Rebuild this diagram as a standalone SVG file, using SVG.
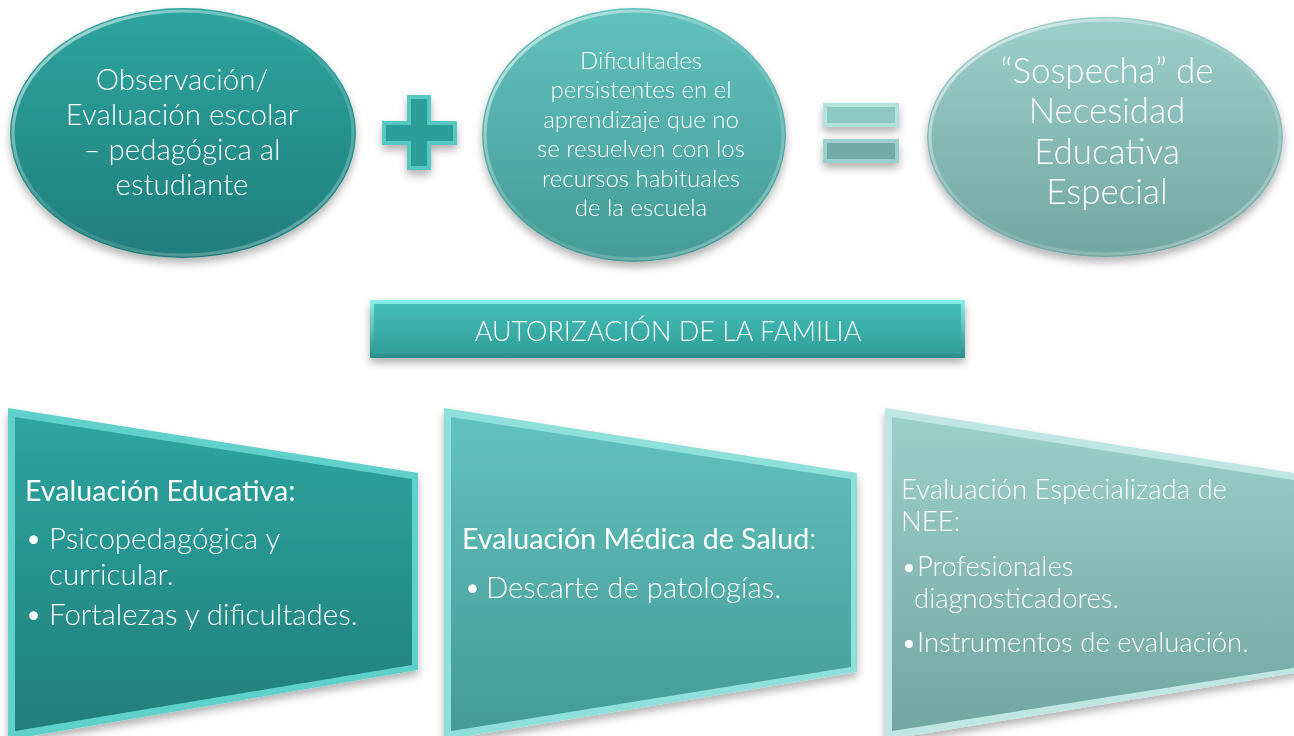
<svg xmlns="http://www.w3.org/2000/svg" width="1294" height="736" viewBox="0 0 1294 736">
<style>
.lt{font-family:Lato,"Open Sans","Liberation Sans",sans-serif;font-weight:300;fill:#ffffff}
.rg{font-family:Lato,"Open Sans","Liberation Sans",sans-serif;font-weight:400;fill:#ffffff}
.c{text-anchor:middle}
</style>
<defs>
<filter id="sh" x="-10%" y="-10%" width="120%" height="130%">
<feDropShadow dx="0" dy="5" stdDeviation="4" flood-color="#000" flood-opacity="0.3"/>
</filter>
<linearGradient id="g1" x1="0" y1="0" x2="0" y2="1"><stop offset="0" stop-color="#2ea5a0"/><stop offset="1" stop-color="#207e7a"/></linearGradient>
<linearGradient id="g2" x1="0" y1="0" x2="0" y2="1"><stop offset="0" stop-color="#62c2bd"/><stop offset="1" stop-color="#459a95"/></linearGradient>
<linearGradient id="g3" x1="0" y1="0" x2="0" y2="1"><stop offset="0" stop-color="#9dcfcb"/><stop offset="1" stop-color="#72a6a2"/></linearGradient>
<linearGradient id="gb" x1="0" y1="0" x2="0" y2="1"><stop offset="0" stop-color="#45bdb7"/><stop offset="1" stop-color="#2f9f99"/></linearGradient>
<linearGradient id="gbe" x1="0" y1="0" x2="0" y2="1"><stop offset="0" stop-color="#8af0ea"/><stop offset="1" stop-color="#2a8d88"/></linearGradient>
<linearGradient id="rim" x1="0" y1="0" x2="1" y2="1"><stop offset="0" stop-color="#ffffff" stop-opacity="0.7"/><stop offset="0.5" stop-color="#ffffff" stop-opacity="0.08"/><stop offset="1" stop-color="#ffffff" stop-opacity="0.35"/></linearGradient>
</defs>

<g id="connectors"></g>

<g id="n-observacion" filter="url(#sh)">
<ellipse cx="183" cy="133" rx="173" ry="125" fill="url(#g1)"/>
<ellipse cx="183" cy="133" rx="170" ry="122" fill="none" stroke="url(#rim)" stroke-width="3"/>
<text class="lt c" font-size="29.5"><tspan x="182" y="90">Observación/</tspan><tspan x="182" y="125">Evaluación escolar</tspan><tspan x="182" y="160">– pedagógica al</tspan><tspan x="182" y="195">estudiante</tspan></text>
</g>

<g id="n-plus" filter="url(#sh)">
<polygon points="407,95 431,95 431,121 457,121 457,145 431,145 431,170 407,170 407,145 382,145 382,121 407,121" fill="#56c8c2"/>
<polygon points="411,99 427,99 427,125 453,125 453,141 427,141 427,166 411,166 411,141 386,141 386,125 411,125" fill="#2a9e99"/>
</g>

<g id="n-dificultades" filter="url(#sh)">
<ellipse cx="634" cy="135" rx="152" ry="127" fill="url(#g2)"/>
<ellipse cx="634" cy="135" rx="149" ry="124" fill="none" stroke="url(#rim)" stroke-width="3"/>
<text class="lt c" font-size="24"><tspan x="641" y="69">Dificultades</tspan><tspan x="641" y="98">persistentes en el</tspan><tspan x="641" y="128">aprendizaje que no</tspan><tspan x="641" y="157">se resuelven con los</tspan><tspan x="641" y="187">recursos habituales</tspan><tspan x="641" y="216">de la escuela</tspan></text>
</g>

<g id="n-equals" filter="url(#sh)">
<rect x="823" y="103" width="76" height="24" fill="#b4e2df"/>
<rect x="827" y="107" width="68" height="16" fill="#8ec8c4"/>
<rect x="823" y="139" width="76" height="24" fill="#9bd0cc"/>
<rect x="827" y="143" width="68" height="16" fill="#71aaa6"/>
</g>

<g id="n-sospecha" filter="url(#sh)">
<ellipse cx="1105" cy="137" rx="178" ry="120" fill="url(#g3)"/>
<ellipse cx="1105" cy="137" rx="175" ry="117" fill="none" stroke="url(#rim)" stroke-width="3"/>
<text class="lt c" font-size="35"><tspan x="1107" y="83">“Sospecha” de</tspan><tspan x="1107" y="123">Necesidad</tspan><tspan x="1107" y="164">Educativa</tspan><tspan x="1107" y="204">Especial</tspan></text>
</g>

<g id="n-autorizacion" filter="url(#sh)">
<rect x="370" y="300" width="595" height="58" fill="url(#gbe)"/>
<rect x="374" y="304" width="587" height="50" fill="url(#gb)"/>
<text class="lt c" x="668" y="341" font-size="27">AUTORIZACIÓN DE LA FAMILIA</text>
</g>

<g id="n-educativa" filter="url(#sh)">
<polygon points="8,408 418,473 418,670 8,740" fill="#5fd0ca"/>
<polygon points="15,417 412,479 412,665 15,731" fill="url(#g1)"/>
<text class="rg" x="25" y="501" font-size="28.6">Evaluación Educativa:</text>
<text class="lt" font-size="29.5"><tspan x="25" y="549">•</tspan><tspan x="49" y="549">Psicopedagógica y</tspan><tspan x="49" y="585">curricular.</tspan><tspan x="25" y="625">•</tspan><tspan x="49" y="625">Fortalezas y dificultades.</tspan></text>
</g>

<g id="n-medica" filter="url(#sh)">
<polygon points="444,408 857,473 857,672 444,740" fill="#8fe0db"/>
<polygon points="451,417 851,479 851,667 451,731" fill="url(#g2)"/>
<text x="462" y="549" font-size="28.6"><tspan class="rg">Evaluación Médica de Salud</tspan><tspan class="lt">:</tspan></text>
<text class="lt" font-size="29.3"><tspan x="464" y="598">•</tspan><tspan x="486" y="598">Descarte de patologías.</tspan></text>
</g>

<g id="n-especializada" filter="url(#sh)">
<polygon points="885,408 1300,474 1300,672 885,740" fill="#bfe6e3"/>
<polygon points="892,417 1300,481 1300,667 892,731" fill="url(#g3)"/>
<text class="lt" font-size="27.5"><tspan x="901" y="499">Evaluación Especializada de</tspan><tspan x="901" y="531">NEE:</tspan><tspan x="901" y="576">•Profesionales</tspan><tspan x="914" y="608">diagnosticadores.</tspan><tspan x="901" y="652">•Instrumentos de evaluación.</tspan></text>
</g>
</svg>
